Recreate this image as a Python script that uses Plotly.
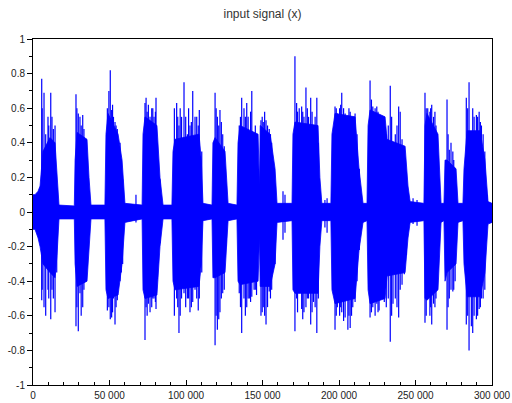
import plotly.graph_objects as go

# Envelope of the dense core (sample index, upper, lower)
env_x = [0, 1300, 3300, 4600, 6500, 11100, 14400, 15700, 17000,
         27000, 27500, 28800, 35300, 36600, 37900,
         47000, 47700, 49000, 55600, 58200, 60100,
         71300, 71900, 73200, 81000, 83000, 85000,
         90800, 91500, 92800, 108500, 110000, 111100,
         117000, 117600, 119000, 125500, 127500,
         133300, 134000, 135300, 147100, 148000, 148500, 155000, 158200, 159500,
         169300, 169900, 171200, 186300, 187500, 188800,
         194700, 195400, 197400, 210500, 213100, 215700,
         218300, 219000, 220300, 230100, 231400, 243200, 245100, 246500,
         255500, 256200, 257500, 264700, 266700,
         268600, 269300, 270600, 276500, 277800,
         281000, 281700, 283700, 292200, 295400, 297400, 300000]
env_hi = [0.10, 0.10, 0.12, 0.15, 0.35, 0.43, 0.40, 0.20, 0.04,
          0.035, 0.30, 0.46, 0.42, 0.20, 0.04,
          0.04, 0.45, 0.57, 0.45, 0.30, 0.05,
          0.04, 0.45, 0.55, 0.50, 0.20, 0.04,
          0.04, 0.35, 0.42, 0.45, 0.30, 0.05,
          0.04, 0.40, 0.43, 0.35, 0.05,
          0.04, 0.40, 0.50, 0.45, 0.15, 0.50, 0.45, 0.25, 0.05,
          0.05, 0.45, 0.52, 0.50, 0.20, 0.05,
          0.05, 0.45, 0.57, 0.55, 0.25, 0.05,
          0.05, 0.50, 0.59, 0.55, 0.42, 0.38, 0.15, 0.06,
          0.05, 0.50, 0.57, 0.45, 0.05,
          0.05, 0.30, 0.30, 0.25, 0.05,
          0.05, 0.25, 0.47, 0.47, 0.30, 0.06, 0.05]
env_lo = [-0.10, -0.10, -0.15, -0.20, -0.30, -0.35, -0.38, -0.25, -0.04,
          -0.04, -0.30, -0.43, -0.40, -0.20, -0.04,
          -0.04, -0.45, -0.50, -0.48, -0.30, -0.06,
          -0.04, -0.45, -0.50, -0.48, -0.20, -0.04,
          -0.04, -0.40, -0.45, -0.43, -0.30, -0.05,
          -0.04, -0.38, -0.38, -0.35, -0.05,
          -0.04, -0.40, -0.42, -0.40, -0.15, -0.43, -0.43, -0.30, -0.06,
          -0.05, -0.45, -0.47, -0.47, -0.20, -0.05,
          -0.05, -0.45, -0.53, -0.50, -0.22, -0.06,
          -0.05, -0.45, -0.53, -0.50, -0.37, -0.35, -0.15, -0.06,
          -0.05, -0.50, -0.51, -0.45, -0.06,
          -0.05, -0.40, -0.35, -0.30, -0.06,
          -0.05, -0.30, -0.49, -0.49, -0.35, -0.07, -0.06]

# Isolated peaks (sample index, max, min)
spike_x = [5700, 7200, 8300, 9800, 11600, 13300, 14400, 15500,
           28100, 29600, 30700, 32500, 34000, 35100, 36100,
           48600, 50500, 51400, 52600, 53600, 55100, 56900, 58600,
           67300,
           73200, 73900, 75400, 77600, 79100, 80400, 81900, 83000,
           92400, 93900, 95400, 97100, 98700, 100900, 102600, 104400, 105900, 108000, 108700, 110300,
           119000, 120500, 122200, 124000, 125000, 126100,
           134800, 136400, 137900, 139700, 141400, 143000, 144500, 146100,
           149000, 150500, 152300, 154400, 156000, 158200,
           163400, 164700,
           171200, 172300, 174000, 175600, 177100, 178400, 180100, 181500, 183300, 185500, 186500,
           190800, 192200,
           197400, 198900, 200400, 201800, 204000, 205800, 207300, 209000, 210500, 211800, 213300,
           220300, 222100, 223600, 224700, 226200, 228000, 229600, 230900, 233500, 235300, 236800,
           239000, 240000, 241200, 242700, 244000,
           248400, 251000,
           256200, 258000, 259400, 260600, 261800, 262700, 264200,
           270600, 272100, 273200, 274400, 275900,
           283200, 285000, 286500, 288300, 289800, 291600, 293100, 295300, 296800,
           # secondary peaks
           6000, 10300, 12400,
           28700, 31500, 33300,
           49600, 52000, 54300, 57700,
           74600, 76500, 78300, 80000,
           94600, 96200, 99800, 101700, 103500, 107000,
           119700, 121400, 123100,
           135600, 138800, 140600, 142200, 145300,
           149800, 151400, 153300, 155200,
           172900, 176300, 179300, 182400, 184400,
           198200, 201100, 203000, 206500, 208200,
           221200, 225500, 227100, 232200, 234400, 237900,
           257000, 259900, 263400,
           271300, 275000,
           284100, 287400, 290600, 292400, 294200]
spike_hi = [0.77, 0.69, 0.45, 0.55, 0.69, 0.48, 0.50, 0.14,
            0.68, 0.57, 0.55, 0.56, 0.40, 0.30, 0.10,
            0.60, 0.82, 0.59, 0.55, 0.52, 0.48, 0.40, 0.19,
            0.10,
            0.63, 0.66, 0.62, 0.60, 0.55, 0.66, 0.21, 0.19,
            0.60, 0.63, 0.50, 0.55, 0.75, 0.45, 0.50, 0.70, 0.55, 0.50, 0.59, 0.35,
            0.69, 0.55, 0.59, 0.45, 0.38, 0.15,
            0.50, 0.66, 0.60, 0.63, 0.45, 0.70, 0.38, 0.40,
            0.53, 0.52, 0.53, 0.48, 0.40, 0.12,
            0.12, 0.10,
            0.90, 0.63, 0.60, 0.61, 0.55, 0.72, 0.55, 0.66, 0.50, 0.66, 0.40,
            0.07, 0.08,
            0.61, 0.57, 0.60, 0.69, 0.57, 0.55, 0.58, 0.50, 0.57, 0.45, 0.25,
            0.76, 0.61, 0.60, 0.61, 0.55, 0.49, 0.50, 0.45, 0.73, 0.38, 0.45,
            0.61, 0.58, 0.42, 0.35, 0.20,
            0.08, 0.07,
            0.69, 0.60, 0.58, 0.62, 0.55, 0.58, 0.35,
            0.65, 0.36, 0.40, 0.35, 0.25,
            0.66, 0.75, 0.40, 0.55, 0.56, 0.58, 0.50, 0.35, 0.10,
            0.60, 0.50, 0.55,
            0.60, 0.50, 0.48,
            0.70, 0.62, 0.50, 0.30,
            0.58, 0.55, 0.60, 0.58,
            0.55, 0.60, 0.55, 0.60, 0.52, 0.55,
            0.60, 0.50, 0.52,
            0.55, 0.55, 0.55, 0.58, 0.50,
            0.55, 0.58, 0.50, 0.45,
            0.58, 0.58, 0.60, 0.58, 0.55,
            0.60, 0.62, 0.60, 0.60, 0.55,
            0.65, 0.58, 0.55, 0.50, 0.55, 0.50,
            0.60, 0.60, 0.50,
            0.45, 0.30,
            0.60, 0.60, 0.55, 0.52, 0.45]
spike_lo = [-0.51, -0.55, -0.60, -0.45, -0.62, -0.50, -0.58, -0.35,
            -0.66, -0.69, -0.47, -0.55, -0.26, -0.30, -0.20,
            -0.57, -0.62, -0.61, -0.50, -0.65, -0.51, -0.40, -0.30,
            -0.06,
            -0.74, -0.55, -0.53, -0.55, -0.50, -0.56, -0.20, -0.18,
            -0.60, -0.50, -0.70, -0.50, -0.47, -0.50, -0.58, -0.52, -0.45, -0.57, -0.50, -0.35,
            -0.77, -0.68, -0.58, -0.47, -0.45, -0.20,
            -0.47, -0.70, -0.50, -0.55, -0.50, -0.49, -0.45, -0.48,
            -0.60, -0.55, -0.65, -0.46, -0.45, -0.30,
            -0.16, -0.12,
            -0.69, -0.50, -0.47, -0.56, -0.58, -0.55, -0.50, -0.65, -0.52, -0.70, -0.50,
            -0.09, -0.12,
            -0.68, -0.55, -0.60, -0.58, -0.61, -0.68, -0.67, -0.55, -0.52, -0.40, -0.22,
            -0.61, -0.55, -0.60, -0.53, -0.57, -0.47, -0.52, -0.55, -0.75, -0.53, -0.50,
            -0.61, -0.45, -0.42, -0.36, -0.25,
            -0.07, -0.08,
            -0.64, -0.50, -0.60, -0.65, -0.53, -0.55, -0.42,
            -0.68, -0.50, -0.45, -0.46, -0.40,
            -0.65, -0.80, -0.66, -0.60, -0.62, -0.56, -0.50, -0.45, -0.08,
            -0.45, -0.50, -0.45,
            -0.55, -0.60, -0.45,
            -0.55, -0.58, -0.55, -0.35,
            -0.60, -0.58, -0.50, -0.52,
            -0.55, -0.60, -0.55, -0.50, -0.55, -0.50,
            -0.60, -0.62, -0.50,
            -0.55, -0.60, -0.50, -0.52, -0.45,
            -0.58, -0.60, -0.55, -0.50,
            -0.58, -0.62, -0.50, -0.58, -0.55,
            -0.60, -0.55, -0.63, -0.60, -0.60,
            -0.58, -0.58, -0.50, -0.50, -0.60, -0.55,
            -0.60, -0.55, -0.50,
            -0.55, -0.45,
            -0.60, -0.70, -0.60, -0.55, -0.50]

x_tickvals = [0, 50000, 100000, 150000, 200000, 250000, 300000]
x_ticktext = ["0", "50 000", "100 000", "150 000", "200 000", "250 000", "300 000"]
y_tickvals = [-1, -0.8, -0.6, -0.4, -0.2, 0, 0.2, 0.4, 0.6, 0.8, 1]
y_ticktext = ["-1", "-0.8", "-0.6", "-0.4", "-0.2", "0", "0.2", "0.4", "0.6", "0.8", "1"]

BLUE = "#0000ff"

fig = go.Figure()
fig.add_trace(go.Scatter(
    x=env_x + env_x[::-1], y=env_hi + env_lo[::-1],
    mode="lines", fill="toself", fillcolor=BLUE,
    line=dict(color=BLUE, width=0.8), hoverinfo="skip", showlegend=False))

sx, sy = [], []
for x, hi, lo in zip(spike_x, spike_hi, spike_lo):
    sx += [x, x, None]
    sy += [hi, lo, None]
fig.add_trace(go.Scatter(x=sx, y=sy, mode="lines",
                         line=dict(color=BLUE, width=1.2), showlegend=False))

axis_font = dict(family="Liberation Sans, Arial, sans-serif", size=10, color="#222")
fig.update_layout(
    width=512, height=403,
    margin=dict(l=33, r=20, t=39, b=18),
    paper_bgcolor="white", plot_bgcolor="white",
    title=dict(text="input signal (x)", x=0.5, xref="paper", xanchor="center",
               y=1 - 14 / 403, yref="container", yanchor="middle",
               font=dict(family="Liberation Sans, Arial, sans-serif", size=12, color="#333")),
    xaxis=dict(range=[0, 300000], tickvals=x_tickvals, ticktext=x_ticktext,
               automargin=False,
               showgrid=False, zeroline=False, showline=True, linecolor="black",
               linewidth=1, mirror=True, ticks="inside", ticklen=5, tickcolor="black",
               tickfont=axis_font, ticklabelstandoff=1,
               minor=dict(ticks="inside", ticklen=3, dtick=10000, tick0=0,
                          tickcolor="black", showgrid=False)),
    yaxis=dict(range=[-1, 1], tickvals=y_tickvals, ticktext=y_ticktext,
               automargin=False,
               showgrid=False, zeroline=False, showline=True, linecolor="black",
               linewidth=1, mirror=True, ticks="outside", ticklen=5, tickcolor="black",
               tickfont=axis_font,
               minor=dict(ticks="outside", ticklen=3, dtick=0.1, tick0=0,
                          tickcolor="black", showgrid=False)),
)

fig.write_html("out.html")
